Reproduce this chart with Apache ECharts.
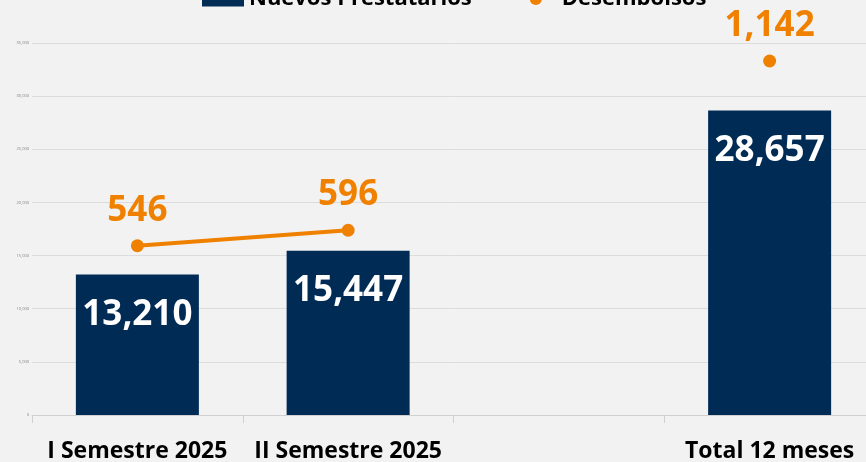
<!DOCTYPE html>
<html>
<head>
<meta charset="utf-8">
<script src="https://cdn.jsdelivr.net/npm/echarts@6/dist/echarts.min.js"></script>
<style>
html, body { margin: 0; padding: 0; background: #f2f2f2; }
#chart { width: 866px; height: 462px; }
</style>
</head>
<body>
<div id="chart"></div>
<script>
const categories = ['I Semestre 2025', 'II Semestre 2025', '', 'Total 12 meses']
const prestatarios = [13210, 15447, null, 28657]
const desembolsos = [546, 596, null, 1142]

const fmt = v => v.toLocaleString('en-US')
const font = '"Open Sans", "Noto Sans", sans-serif'

const chart = echarts.init(document.getElementById('chart'))
chart.setOption({
  backgroundColor: '#f2f2f2',
  textStyle: { fontFamily: font },
  legend: {
    top: -17,
    left: 197,
    itemGap: 42,
    itemWidth: 42,
    itemHeight: 15,
    textStyle: { fontSize: 22, fontWeight: 'bold', color: '#000', fontFamily: font },
    data: [
      { name: 'Nuevos Prestatarios', icon: 'rect' },
      { name: 'Desembolsos' }
    ]
  },
  grid: { left: 32, width: 843, top: 43, bottom: 47, outerBoundsMode: 'none' },
  xAxis: {
    type: 'category',
    data: categories,
    axisLine: { lineStyle: { color: '#d0d0d0' } },
    axisTick: { show: true, interval: 0, length: 8, lineStyle: { color: '#d0d0d0' } },
    axisLabel: { interval: 0, fontSize: 23, fontWeight: 'bold', color: '#000', margin: 25, fontFamily: font }
  },
  yAxis: [
    {
      type: 'value',
      min: 0,
      max: 35000,
      interval: 5000,
      axisLine: { show: false },
      axisTick: { show: false },
      axisLabel: { fontSize: 4, color: '#808080', margin: 3, formatter: fmt },
      splitLine: { lineStyle: { color: '#dcdcdc', width: 1 } }
    },
    {
      type: 'value',
      min: 0,
      max: 1200,
      show: false,
      splitLine: { show: false }
    }
  ],
  series: [
    {
      name: 'Nuevos Prestatarios',
      type: 'bar',
      data: prestatarios,
      barWidth: 123,
      itemStyle: { color: '#002b55' },
      label: {
        show: true,
        position: 'insideTop',
        distance: 23,
        fontSize: 35,
        fontWeight: 'bold',
        color: '#fff',
        fontFamily: font,
        formatter: p => fmt(p.value)
      }
    },
    {
      name: 'Desembolsos',
      type: 'line',
      yAxisIndex: 1,
      data: desembolsos,
      connectNulls: false,
      symbol: 'circle',
      symbolSize: 13,
      lineStyle: { color: '#f08000', width: 4 },
      itemStyle: { color: '#f08000' },
      label: {
        show: true,
        position: 'top',
        distance: 11,
        fontSize: 35,
        fontWeight: 'bold',
        color: '#f08000',
        fontFamily: font,
        formatter: p => fmt(p.value)
      }
    }
  ]
})
</script>
</body>
</html>
